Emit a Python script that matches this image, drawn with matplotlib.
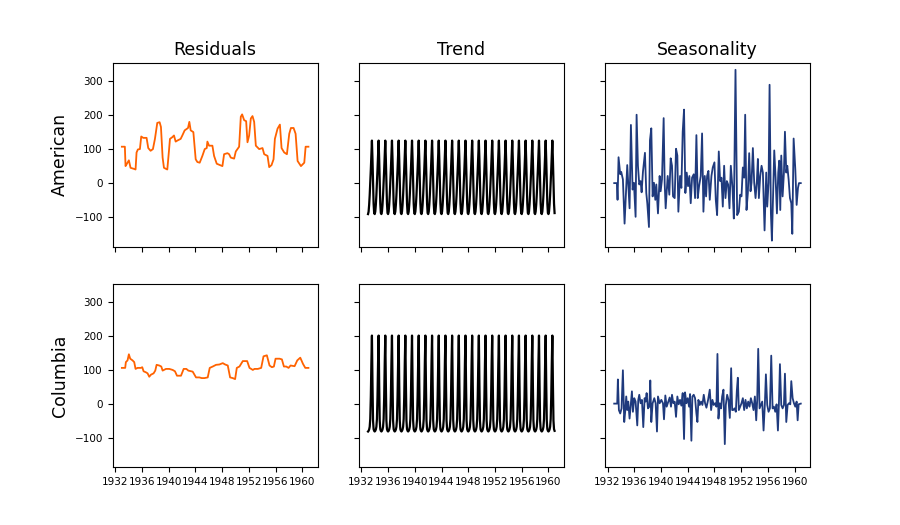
import numpy as np
import matplotlib
matplotlib.use("Agg")
import matplotlib.pyplot as plt

titles = ["Residuals", "Trend", "Seasonality"]
rivers = ["American", "Columbia"]
first_year = 1933
n_years = 28

# smooth (orange) panel: (decimal year, value)
american_residuals_x = [1933.0, 1933.45, 1933.55, 1933.7, 1934.05, 1934.3, 1934.8, 1935.05, 1935.2, 1935.4,
                        1935.7, 1935.9, 1936.2, 1936.7, 1936.95, 1937.3, 1937.65, 1937.95, 1938.3, 1938.65,
                        1938.85, 1939.1, 1939.3, 1939.8, 1940.05, 1940.2, 1940.55, 1940.8, 1941.05, 1941.3,
                        1941.8, 1942.05, 1942.4, 1942.9, 1943.1, 1943.3, 1943.7, 1944.05, 1944.3, 1944.65,
                        1945.05, 1945.4, 1945.7, 1945.8, 1946.05, 1946.55, 1946.8, 1947.2, 1947.8, 1948.05,
                        1948.3, 1948.8, 1949.05, 1949.3, 1949.8, 1950.05, 1950.55, 1950.8, 1951.0, 1951.3,
                        1951.6, 1951.8, 1952.05, 1952.3, 1952.55, 1952.8, 1953.05, 1953.55, 1954.05, 1954.3,
                        1954.8, 1955.05, 1955.4, 1955.7, 1955.9, 1956.3, 1956.65, 1956.9, 1957.3, 1957.7,
                        1958.05, 1958.3, 1958.7, 1959.0, 1959.3, 1959.8, 1960.3, 1960.5, 1960.92]
american_residuals_y = [107, 107, 50, 55, 67, 45, 42, 40, 90, 99,
                        100, 137, 133, 133, 103, 95, 100, 130, 177, 179,
                        165, 75, 45, 40, 95, 130, 135, 140, 122, 125,
                        130, 140, 155, 162, 180, 155, 150, 70, 62, 60,
                        80, 100, 103, 122, 110, 110, 80, 57, 52, 50,
                        85, 88, 85, 75, 72, 93, 107, 195, 202, 185,
                        182, 120, 140, 190, 197, 180, 110, 100, 103, 85,
                        80, 47, 53, 70, 130, 160, 172, 103, 90, 85,
                        145, 162, 162, 145, 65, 50, 60, 107, 107]

columbia_residuals_x = [1933.0, 1933.5, 1933.6, 1933.85, 1934.05, 1934.25, 1934.6, 1934.85, 1935.05, 1935.35,
                        1935.85, 1936.05, 1936.25, 1936.6, 1936.85, 1937.1, 1937.35, 1937.75, 1938.0, 1938.2,
                        1938.6, 1938.9, 1939.1, 1939.6, 1940.1, 1940.6, 1940.95, 1941.25, 1941.85, 1942.25,
                        1942.65, 1942.95, 1943.6, 1944.1, 1944.6, 1944.95, 1945.35, 1945.85, 1946.15, 1946.6,
                        1947.1, 1947.6, 1948.1, 1948.45, 1948.85, 1949.2, 1949.6, 1949.95, 1950.2, 1950.6,
                        1950.85, 1951.1, 1951.75, 1952.1, 1952.6, 1952.85, 1953.35, 1953.85, 1954.2, 1954.7,
                        1955.1, 1955.45, 1955.75, 1956.0, 1956.6, 1956.95, 1957.25, 1957.6, 1957.95, 1958.25,
                        1958.85, 1959.25, 1959.7, 1960.1, 1960.45, 1960.92]
columbia_residuals_y = [105, 105, 122, 127, 145, 132, 127, 122, 102, 105,
                        105, 107, 95, 92, 89, 79, 85, 89, 97, 114,
                        112, 109, 97, 102, 102, 99, 95, 82, 82, 102,
                        102, 97, 94, 77, 77, 75, 75, 77, 105, 109,
                        114, 115, 119, 115, 112, 77, 75, 72, 105, 109,
                        117, 125, 125, 105, 99, 102, 102, 105, 139, 142,
                        112, 107, 109, 132, 132, 130, 109, 109, 105, 112,
                        110, 127, 135, 117, 105, 105]

# periodic (black) panel: one year of monthly values, Jan..Dec
american_trend_month = [-91, -84, -64, -35, 0, 40, 85, 125, 70, 0, -60, -88]
columbia_trend_month = [-82, -80, -76, -68, -45, 20, 120, 200, 60, -50, -75, -80]

# spiky (blue) panel: (decimal year, value)
american_season_x = [1933.0, 1933.4, 1933.5, 1933.65, 1933.9, 1934.05, 1934.3, 1934.55, 1934.95, 1935.3,
                     1935.5, 1935.75, 1935.95, 1936.2, 1936.35, 1936.55, 1936.75, 1936.95, 1937.1, 1937.3,
                     1937.6, 1937.8, 1937.95, 1938.2, 1938.35, 1938.55, 1938.75, 1938.95, 1939.15, 1939.3,
                     1939.55, 1939.8, 1939.95, 1940.15, 1940.4, 1940.55, 1940.7, 1941.0, 1941.25, 1941.45,
                     1941.65, 1941.8, 1942.05, 1942.25, 1942.45, 1942.6, 1942.85, 1943.05, 1943.25, 1943.45,
                     1943.65, 1943.85, 1944.05, 1944.25, 1944.45, 1944.65, 1944.9, 1945.1, 1945.3, 1945.5,
                     1945.7, 1945.95, 1946.15, 1946.35, 1946.55, 1946.75, 1946.9, 1947.1, 1947.3, 1947.55,
                     1947.75, 1948.0, 1948.2, 1948.4, 1948.65, 1948.85, 1949.05, 1949.25, 1949.45, 1949.65,
                     1949.85, 1950.05, 1950.25, 1950.45, 1950.7, 1950.9, 1951.15, 1951.4, 1951.65, 1951.85,
                     1952.05, 1952.25, 1952.45, 1952.6, 1952.8, 1953.0, 1953.2, 1953.4, 1953.55, 1953.75,
                     1953.95, 1954.15, 1954.35, 1954.5, 1954.65, 1954.85, 1955.05, 1955.25, 1955.5, 1955.75,
                     1955.9, 1956.1, 1956.25, 1956.45, 1956.6, 1956.8, 1956.95, 1957.15, 1957.35, 1957.55,
                     1957.7, 1957.85, 1958.0, 1958.2, 1958.4, 1958.55, 1958.75, 1958.9, 1959.1, 1959.3,
                     1959.5, 1959.65, 1959.85, 1960.1, 1960.3, 1960.5, 1960.65, 1960.92]
american_season_y = [0, 0, -49, 76, 26, 33, 11, -119, 53, -74,
                     171, -19, 1, -99, 201, 51, -4, 6, -27, 33,
                     89, -29, -59, -129, 126, 161, -39, 1, -49, -4,
                     -89, 21, -24, 11, 191, 1, -74, 21, -34, 73,
                     51, -39, -44, 101, 81, -84, 21, -14, 151, 216,
                     -29, 31, -9, 21, -59, 16, 26, -44, 141, -44,
                     -9, 21, 146, -84, 21, -39, 21, 36, -49, 21,
                     46, 61, -49, -94, 93, 6, 16, -69, 51, -44,
                     6, -4, -74, 51, -14, -104, 333, -94, -84, -34,
                     -39, 46, 16, 201, -79, -29, 88, -24, 1, 103,
                     1, -44, 6, 71, -44, 21, 51, 31, -139, 31,
                     -69, 1, 289, -89, -169, -24, 96, 16, -89, 31,
                     66, -79, 81, -39, 31, 151, 31, 51, 11, -44,
                     -59, -149, 131, 41, -64, -14, 0, 0]

columbia_season_x = [1933.0, 1933.45, 1933.55, 1933.7, 1933.9, 1934.1, 1934.3, 1934.5, 1934.65, 1934.8,
                     1934.95, 1935.1, 1935.3, 1935.5, 1935.65, 1935.8, 1936.0, 1936.2, 1936.45, 1936.6,
                     1936.75, 1936.95, 1937.15, 1937.35, 1937.55, 1937.7, 1937.85, 1938.05, 1938.25, 1938.4,
                     1938.55, 1938.75, 1939.0, 1939.2, 1939.4, 1939.55, 1939.8, 1940.05, 1940.3, 1940.45,
                     1940.65, 1940.85, 1941.1, 1941.3, 1941.5, 1941.65, 1941.85, 1942.05, 1942.25, 1942.45,
                     1942.65, 1942.85, 1943.05, 1943.25, 1943.45, 1943.6, 1943.8, 1944.0, 1944.2, 1944.35,
                     1944.55, 1944.7, 1944.9, 1945.1, 1945.3, 1945.45, 1945.6, 1945.8, 1946.0, 1946.2,
                     1946.4, 1946.6, 1946.8, 1947.05, 1947.3, 1947.5, 1947.7, 1947.9, 1948.1, 1948.3,
                     1948.45, 1948.6, 1948.8, 1949.0, 1949.15, 1949.35, 1949.55, 1949.7, 1949.9, 1950.1,
                     1950.3, 1950.5, 1950.65, 1950.8, 1951.0, 1951.2, 1951.35, 1951.5, 1951.65, 1951.85,
                     1952.05, 1952.25, 1952.45, 1952.65, 1952.85, 1953.05, 1953.25, 1953.45, 1953.65, 1953.85,
                     1954.05, 1954.25, 1954.4, 1954.55, 1954.75, 1954.95, 1955.15, 1955.35, 1955.55, 1955.7,
                     1955.9, 1956.1, 1956.3, 1956.5, 1956.7, 1956.9, 1957.1, 1957.3, 1957.5, 1957.65,
                     1957.8, 1958.0, 1958.2, 1958.4, 1958.55, 1958.75, 1958.95, 1959.15, 1959.35, 1959.5,
                     1959.7, 1959.9, 1960.1, 1960.3, 1960.45, 1960.6, 1960.92]
columbia_season_y = [0, 0, 71, -19, -29, -14, 98, -54, -22, 21,
                     -19, 6, -44, 1, 36, -24, 16, 6, -64, 11,
                     26, 1, 11, -69, 16, 6, 31, -14, -9, 68,
                     -54, 1, 16, 1, -82, 21, 1, 11, 1, -46,
                     24, -9, 6, 18, -9, 26, 1, 6, -39, 21,
                     -2, 11, -6, 31, -104, 33, 1, 16, -9, 28,
                     -109, 21, 26, 16, -29, -54, 11, -4, 6, -4,
                     26, 1, -12, 11, 41, -19, 11, -4, 1, -9,
                     146, -44, 1, -14, 21, 41, -119, -4, 26, 11,
                     -42, 104, -19, -19, -14, -24, 38, 76, -19, -9,
                     1, 16, -19, 11, -14, 6, -9, 16, 1, -19,
                     21, -49, 11, 161, -14, -4, 6, -79, 1, 86,
                     -4, -24, -14, 141, -14, -9, -24, -2, -79, 1,
                     116, -4, -14, -4, 88, -54, -4, 1, -2, 66,
                     16, 1, -9, 6, -49, -2, 0]

colors = ["#ff6200", "black", "#1f3a7d"]
widths = [1.3, 1.6, 1.3]

months = first_year + np.arange(n_years * 12) / 12
panels = [
    [(american_residuals_x, american_residuals_y),
     (months, np.tile(american_trend_month, n_years)),
     (american_season_x, american_season_y)],
    [(columbia_residuals_x, columbia_residuals_y),
     (months, np.tile(columbia_trend_month, n_years)),
     (columbia_season_x, columbia_season_y)],
]

fig, axes = plt.subplots(2, 3, figsize=(9, 5.25), dpi=100, sharex=True, sharey=True)
for r in range(2):
    for c in range(3):
        ax = axes[r, c]
        x, y = panels[r][c]
        ax.plot(x, y, color=colors[c], linewidth=widths[c])
        ax.tick_params(labelsize=7.5)
    axes[r, 0].set_ylabel(rivers[r], fontsize=12.5)
for c in range(3):
    axes[0, c].set_title(titles[c], fontsize=12.5)

axes[0, 0].set_ylim(-187, 353)
axes[0, 0].set_yticks([-100, 0, 100, 200, 300])
axes[0, 0].set_xlim(1931.6, 1962.3)
axes[0, 0].set_xticks(range(1932, 1961, 4))

plt.savefig("out.png")
